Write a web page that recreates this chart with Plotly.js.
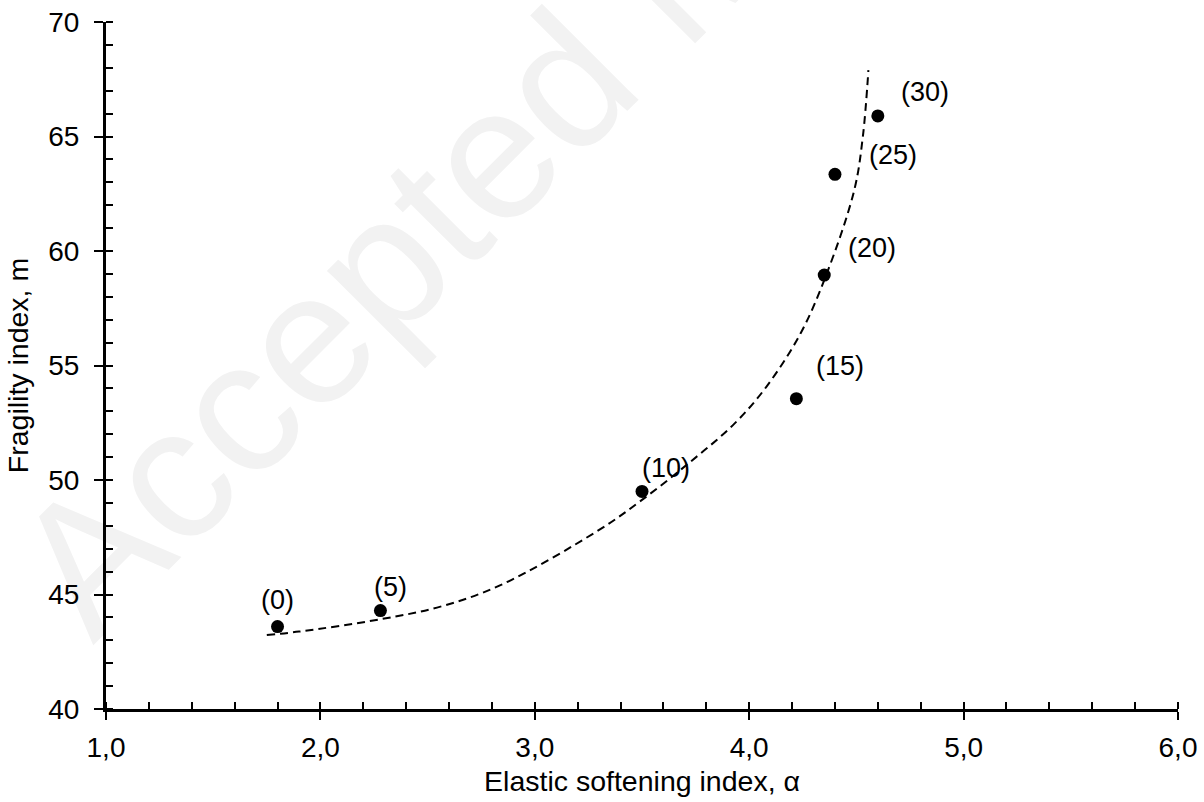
<!DOCTYPE html>
<html>
<head>
<meta charset="utf-8">
<script src="https://cdn.plot.ly/plotly-3.0.1.min.js"></script>
<style>
  html, body { margin: 0; padding: 0; background: #ffffff; }
  #chart { width: 1204px; height: 802px; }
</style>
</head>
<body>
<div id="chart"></div>
<script>
// Measured points: elastic softening index vs fragility index
const alpha = [1.80, 2.28, 3.50, 4.22, 4.35, 4.40, 4.60];
const fragility = [43.6, 44.3, 49.5, 53.55, 58.95, 63.35, 65.9];
const pointLabels = ['(0)', '(5)', '(10)', '(15)', '(20)', '(25)', '(30)'];

// Trend curve through the points
const fitAlpha = [1.75, 1.90, 2.28, 2.56, 2.84, 3.30, 3.50, 3.72, 3.93, 4.08, 4.24, 4.36, 4.49, 4.53, 4.556];
const fitM = [43.23, 43.38, 43.92, 44.47, 45.41, 47.82, 49.13, 50.75, 52.45, 54.07, 56.41, 58.97, 62.66, 64.99, 67.90];

// Tick values
const xTicks = [1, 2, 3, 4, 5, 6];
const yTicks = [40, 45, 50, 55, 60, 65, 70];

// Label offsets in pixels relative to each point
const labelShift = [[0, 27], [10, 24], [24, 23], [44, 33], [48, 27], [58, 19], [47, 24]];

const FONT = 'Liberation Sans, Arial, sans-serif';

const points = {
  x: alpha, y: fragility, type: 'scatter', mode: 'markers',
  marker: { color: '#000000', size: 13 },
  xaxis: 'x', yaxis: 'y', hoverinfo: 'skip', showlegend: false
};

const fit = {
  x: fitAlpha, y: fitM, type: 'scatter', mode: 'lines',
  line: { color: '#000000', width: 2, dash: '8px,5px', shape: 'spline', smoothing: 1 },
  xaxis: 'x2', yaxis: 'y2', hoverinfo: 'skip', showlegend: false
};

const annotations = alpha.map((a, i) => ({
  x: a, y: fragility[i], xref: 'x', yref: 'y',
  text: pointLabels[i], showarrow: false,
  xanchor: 'center', yanchor: 'middle',
  xshift: labelShift[i][0], yshift: labelShift[i][1],
  font: { family: FONT, size: 27, color: '#000000' }
}));

const layout = {
  width: 1204, height: 802,
  margin: { l: 106, r: 26, t: 22, b: 93 },
  paper_bgcolor: '#ffffff',
  plot_bgcolor: 'rgba(0,0,0,0)',
  separators: ',.',
  showlegend: false,
  font: { family: FONT, size: 28, color: '#000000' },
  xaxis: {
    range: [1, 6], tickvals: xTicks, tickformat: '.1f',
    showline: true, linecolor: '#000000', linewidth: 3,
    ticks: 'outside', ticklen: 8, tickwidth: 2, tickcolor: '#000000',
    minor: { ticks: 'inside', dtick: 0.2, ticklen: 7, tickwidth: 2, tickcolor: '#000000' },
    showgrid: false, zeroline: false,
    tickfont: { family: FONT, size: 28 },
    ticklabelstandoff: 3,
    title: { text: 'Elastic softening index, α', font: { family: FONT, size: 28.5 }, standoff: 10 }
  },
  yaxis: {
    range: [40, 70], tickvals: yTicks,
    showline: true, linecolor: '#000000', linewidth: 3,
    ticks: 'outside', ticklen: 9, tickwidth: 2, tickcolor: '#000000',
    minor: { ticks: 'inside', dtick: 1, ticklen: 7, tickwidth: 2, tickcolor: '#000000' },
    showgrid: false, zeroline: false,
    tickfont: { family: FONT, size: 28 },
    ticklabelstandoff: 9,
    title: { text: 'Fragility index, m', font: { family: FONT, size: 28.5 }, standoff: 12 }
  },
  xaxis2: {
    overlaying: 'x', anchor: 'y2', range: [1, 6], tickvals: xTicks,
    showline: false, showgrid: false, zeroline: false,
    ticks: 'inside', ticklen: 7, tickwidth: 2, tickcolor: '#000000',
    showticklabels: false
  },
  yaxis2: {
    overlaying: 'y', anchor: 'x2', side: 'left', range: [40, 70], tickvals: yTicks,
    showline: false, showgrid: false, zeroline: false,
    ticks: 'inside', ticklen: 7, tickwidth: 2, tickcolor: '#000000',
    showticklabels: false
  },
  // Faint diagonal watermark behind the plot
  shapes: [{
    type: 'line', layer: 'below', xref: 'paper', yref: 'paper',
    x0: 0.1819, y0: 0.5662, x1: 0.8423, y1: 1.5968,
    line: { color: 'rgba(0,0,0,0)', width: 1 },
    label: {
      text: 'Accepted Manuscript', textposition: 'middle', textangle: 'auto',
      xanchor: 'center', yanchor: 'middle', padding: 0,
      font: { family: FONT, size: 188, color: '#f2f2f2' }
    }
  }],
  annotations: annotations
};

Plotly.newPlot('chart', [points, fit], layout, { staticPlot: true, displayModeBar: false });
</script>
</body>
</html>
